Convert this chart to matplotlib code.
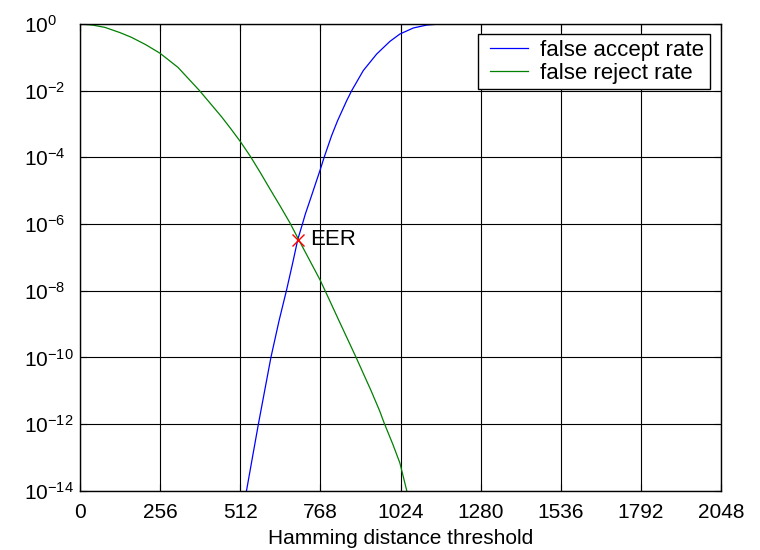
import matplotlib
matplotlib.use('Agg')
import matplotlib.pyplot as plt
from matplotlib.legend_handler import HandlerLine2D

plt.rcParams['font.family'] = ['Liberation Sans', 'DejaVu Sans']
plt.rcParams['mathtext.fontset'] = 'custom'
plt.rcParams['mathtext.rm'] = 'Liberation Sans'
plt.rcParams['mathtext.it'] = 'Liberation Sans:italic'
plt.rcParams['mathtext.default'] = 'regular'

# false accept rate
far_thresh = [532, 550, 570, 590, 610, 636, 660, 680, 696, 710, 720, 735, 768,
              780, 804, 823, 852, 868, 905, 948, 990, 1022, 1065, 1108, 1150, 2048]
far_rate = [1.0e-14, 8.9e-14, 1.0e-12, 1.0e-11, 1.0e-10, 1.26e-9, 1.05e-8,
            7.1e-8, 3.5e-7, 9.5e-7, 2.0e-6, 5.2e-6, 4.4e-5, 1.0e-4, 4.5e-4,
            1.26e-3, 5.0e-3, 1.0e-2, 0.040, 0.126, 0.30, 0.50, 0.76, 0.93,
            1.0, 1.0]

# false reject rate
frr_thresh = [0, 40, 80, 128, 164, 210, 256, 313, 382, 452, 480, 512, 543,
              576, 607, 640, 671, 696, 730, 767, 793, 825, 882, 930, 958, 971,
              1000, 1022, 1044]
frr_rate = [1.0, 0.93, 0.79, 0.55, 0.40, 0.24, 0.132, 0.050, 0.010, 1.66e-3,
            7.6e-4, 3.0e-4, 1.12e-4, 3.5e-5, 1.12e-5, 3.4e-6, 1.07e-6, 3.8e-7,
            9.5e-8, 2.1e-8, 6.3e-9, 1.41e-9, 1.0e-10, 1.0e-11, 2.4e-12,
            1.12e-12, 2.4e-13, 6.8e-14, 1.0e-14]

eer_x = 696
eer_y = 3.4e-7

x_ticks = [0, 256, 512, 768, 1024, 1280, 1536, 1792, 2048]
y_ticks = [1e-14, 1e-12, 1e-10, 1e-8, 1e-6, 1e-4, 1e-2, 1e0]

fig = plt.figure(figsize=(7.6, 5.5), dpi=100)
ax = fig.add_axes([80 / 760, 1 - 490.7 / 550, 641 / 760, 466.7 / 550])

far_line, = ax.semilogy(far_thresh, far_rate, color='#0000ff', lw=0.9, label='false accept rate')
frr_line, = ax.semilogy(frr_thresh, frr_rate, color='#008000', lw=0.9, label='false reject rate')
ax.plot([eer_x], [eer_y], 'x', color='#ff0000', ms=8, mew=1.0)
ax.text(eer_x + 38, eer_y, 'EER', fontsize=16, ha='left', va='center')

ax.set_xlim(0, 2048)
ax.set_ylim(1e-14, 1e0)
ax.set_xticks(x_ticks)
ax.set_yticks(y_ticks)
ax.minorticks_off()
ax.tick_params(direction='in', length=5, labelsize=15, top=True, right=True, width=0.8)
ax.tick_params(axis='x', pad=9)
# MATLAB puts the "10" of every log label at the same x
ax.tick_params(axis='y', pad=40)
for lab in ax.get_yticklabels():
    lab.set_horizontalalignment('left')
ax.grid(True, color='black', lw=0.8, ls='-')
for s in ax.spines.values():
    s.set_linewidth(1.0)
    s.set_color('black')

ax.set_xlabel('Hamming distance threshold', fontsize=15, labelpad=5)

# xpad pushes the sample lines right, so the box has more room on the left
hmap = {far_line: HandlerLine2D(xpad=0.3), frr_line: HandlerLine2D(xpad=0.3)}
leg = ax.legend(loc='upper right', bbox_to_anchor=(1 - 11 / 641, 1 - 10 / 466.7),
                fontsize=16, fancybox=False, framealpha=1, edgecolor='black',
                handlelength=2.0, handletextpad=0.55, labelspacing=0.1,
                borderpad=0.25, borderaxespad=0, handler_map=hmap)
leg.get_frame().set_linewidth(1.0)

fig.savefig('out.png', dpi=100)
